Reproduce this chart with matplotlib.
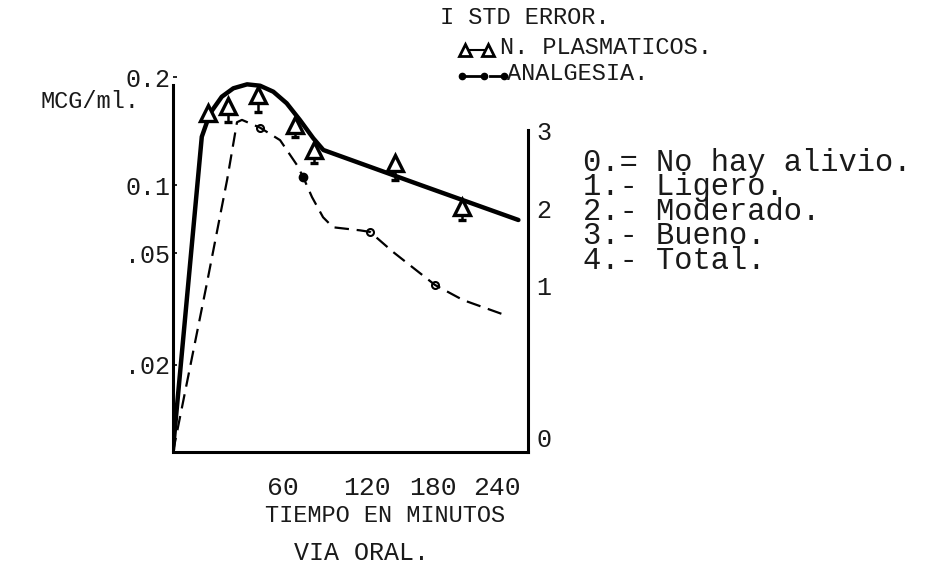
import numpy as np
import matplotlib
matplotlib.use("Agg")
import matplotlib.pyplot as plt
from matplotlib.lines import Line2D
from matplotlib.ticker import NullLocator

plt.rcParams['font.family'] = ['Liberation Mono', 'DejaVu Sans Mono']

# ===== datos =====
# curva ajustada de niveles plasmaticos (MCG/ml)
tiempo_curva = [0, 15.7, 20.2, 26.6, 32.9, 40.4, 47.5, 54.7, 62.6, 72.1, 81.6, 88.8, 168.6, 260.0]
conc_curva = [0.0102, 0.1363, 0.1584, 0.1762, 0.1860, 0.1908, 0.1891, 0.1820, 0.1690, 0.1517, 0.1350, 0.1252, 0.100, 0.0700]

# N. plasmaticos (triangulos) y error estandar
tiempo_np = [19.1, 30.0, 46.4, 68.6, 82.1, 145.5, 207.2]
conc_np = [0.1587, 0.1661, 0.1781, 0.1469, 0.1252, 0.1155, 0.0799]
err_np = [0.004, 0.016, 0.018, 0.011, 0.010, 0.012, 0.010]

# analgesia (escala 0-4, eje derecho)
tiempo_analg = [0, 18.3, 26.5, 29.5, 34.9, 37.6, 47.5, 58.4, 70.0, 74.3, 80.7, 88.6, 95.7, 115.0, 122.7, 143.6, 181.9, 208.1, 247.5]
analgesia = [0, 1.0, 2.0, 2.36, 3.10, 3.13, 3.03, 2.87, 2.55, 2.40, 2.14, 1.88, 1.75, 1.71, 1.69, 1.43, 1.00, 0.91, 0.82]
puntos_abiertos = [6, 14, 16]
punto_lleno = 9

x_ticks = [60, 120, 180, 240]
y_ticks = [0.02, 0.05, 0.1, 0.2]
y_ticklabels = ['.02', '.05', '0.1', '0.2']
alivio_ticks = [0, 1, 2, 3]
leyenda_alivio = ['0.= No hay alivio.', '1.- Ligero.', '2.- Moderado.', '3.- Bueno.', '4.- Total.']

# ===== escalas dibujadas a mano =====
# donde cae cada marca del papel (fraccion del eje)
x_nodos = [0, 60, 120, 180, 240]
x_frac = (np.array([173, 283, 367, 433, 497]) - 173) / 355
log_nodos = np.log10([0.01, 0.02, 0.05, 0.1, 0.2])
y_frac = np.array([0, 87, 199, 267, 375]) / 375
alivio_nodos = [0, 1, 2, 3]
alivio_frac = np.array([0, 167, 244, 322]) / 375


def tramos(x, xs, ys):
    xs = np.asarray(xs, dtype=float)
    ys = np.asarray(ys, dtype=float)
    x = np.asarray(x, dtype=float)
    y = np.interp(x, xs, ys)
    y = np.where(x < xs[0], ys[0] + (x - xs[0]) * (ys[1] - ys[0]) / (xs[1] - xs[0]), y)
    y = np.where(x > xs[-1], ys[-1] + (x - xs[-1]) * (ys[-1] - ys[-2]) / (xs[-1] - xs[-2]), y)
    return y


escala_x = (lambda t: tramos(t, x_nodos, x_frac), lambda f: tramos(f, x_frac, x_nodos))
escala_izq = (lambda v: tramos(np.log10(np.clip(v, 1e-9, None)), log_nodos, y_frac),
              lambda f: 10 ** tramos(f, y_frac, log_nodos))
escala_der = (lambda a: tramos(a, alivio_nodos, alivio_frac), lambda f: tramos(f, alivio_frac, alivio_nodos))

W, H = 933, 568


def px(x, y):
    return x / W, 1 - y / H


tinta = '#1a1a1a'

fig = plt.figure(figsize=(W / 100, H / 100), dpi=100)
ax = fig.add_axes([173 / W, (H - 452) / H, 355 / W, 375 / H])
ax.set_xscale('function', functions=escala_x)
ax.set_yscale('function', functions=escala_izq)
ax.set_xlim(0, 269)
ax.set_ylim(0.01, 0.2)

# curva solida
ax.plot(tiempo_curva, conc_curva, color='k', lw=3.2, solid_capstyle='round', zorder=3)
# triangulos con error estandar
ax.errorbar(tiempo_np, conc_np, yerr=[err_np, [0] * len(err_np)], fmt='^', ms=11,
            mfc='white', mec='k', mew=2.4, ecolor='k', elinewidth=1.8, capsize=3,
            capthick=1.5, zorder=4)

ax.set_xticks(x_ticks)
ax.xaxis.set_minor_locator(NullLocator())
ax.set_yticks(y_ticks, y_ticklabels)
ax.yaxis.set_minor_locator(NullLocator())
ax.tick_params(axis='y', direction='in', length=3, width=1.2, pad=2, labelsize=18, labelcolor=tinta)
ax.tick_params(axis='x', length=0, pad=17, labelsize=19, labelcolor=tinta)
for s in ['top', 'right']:
    ax.spines[s].set_visible(False)
for s in ['left', 'bottom']:
    ax.spines[s].set_linewidth(2.2)
ax.spines['left'].set_bounds(0.0102, 0.19)

# eje derecho: analgesia
ax2 = ax.twinx()
ax2.set_yscale('function', functions=escala_der)
ax2.set_ylim(0, 3.68)
ax2.plot(tiempo_analg, analgesia, color='k', lw=1.6, ls=(0, (6.5, 3.5)), zorder=3)
ax2.plot([tiempo_analg[i] for i in puntos_abiertos], [analgesia[i] for i in puntos_abiertos],
         'o', ms=5, mfc='white', mec='k', mew=1.5)
ax2.plot(tiempo_analg[punto_lleno], analgesia[punto_lleno], 'o', ms=6, color='k')
ax2.set_yticks(alivio_ticks)
ax2.yaxis.set_minor_locator(NullLocator())
ax2.tick_params(axis='y', length=0, pad=6, labelsize=18, labelcolor=tinta)
ax2.yaxis.get_major_ticks()[0].label2.set_va('bottom')
for s in ['top', 'left', 'bottom']:
    ax2.spines[s].set_visible(False)
ax2.spines['right'].set_linewidth(2.2)
ax2.spines['right'].set_bounds(0, 3)

# ===== textos =====
fig.text(*px(40, 101), 'MCG/ml.', fontsize=17, va='center', color=tinta)
fig.text(*px(385, 516), 'TIEMPO EN MINUTOS', fontsize=17, ha='center', va='center', color=tinta)
fig.text(*px(362, 553), 'VIA ORAL.', fontsize=18, ha='center', va='center', color=tinta)

# leyenda superior
fig.text(*px(440, 17), 'I STD ERROR.', fontsize=17, va='center', color=tinta)
fig.add_artist(Line2D([465 / W, 488 / W], [1 - 50 / H] * 2, color='k', lw=1.5,
                      marker='^', ms=8, mfc='white', mec='k', mew=2))
fig.text(*px(500, 47), 'N. PLASMATICOS.', fontsize=17, va='center', color=tinta)
fig.add_artist(Line2D([462 / W, 484 / W], [1 - 76 / H] * 2, color='k', lw=2,
                      marker='o', ms=4.5))
fig.add_artist(Line2D([490 / W, 504 / W], [1 - 76 / H] * 2, color='k', lw=2,
                      marker='o', ms=4.5, markevery=[1]))
fig.text(*px(507, 74), 'ANALGESIA.', fontsize=17, va='center', color=tinta)

# leyenda de alivio (una sola caja, renglones apretados como a maquina)
fig.text(*px(583, 148), '\n'.join(leyenda_alivio), fontsize=22, va='top',
         linespacing=0.76, color=tinta)

fig.savefig('out.png', dpi=100)
